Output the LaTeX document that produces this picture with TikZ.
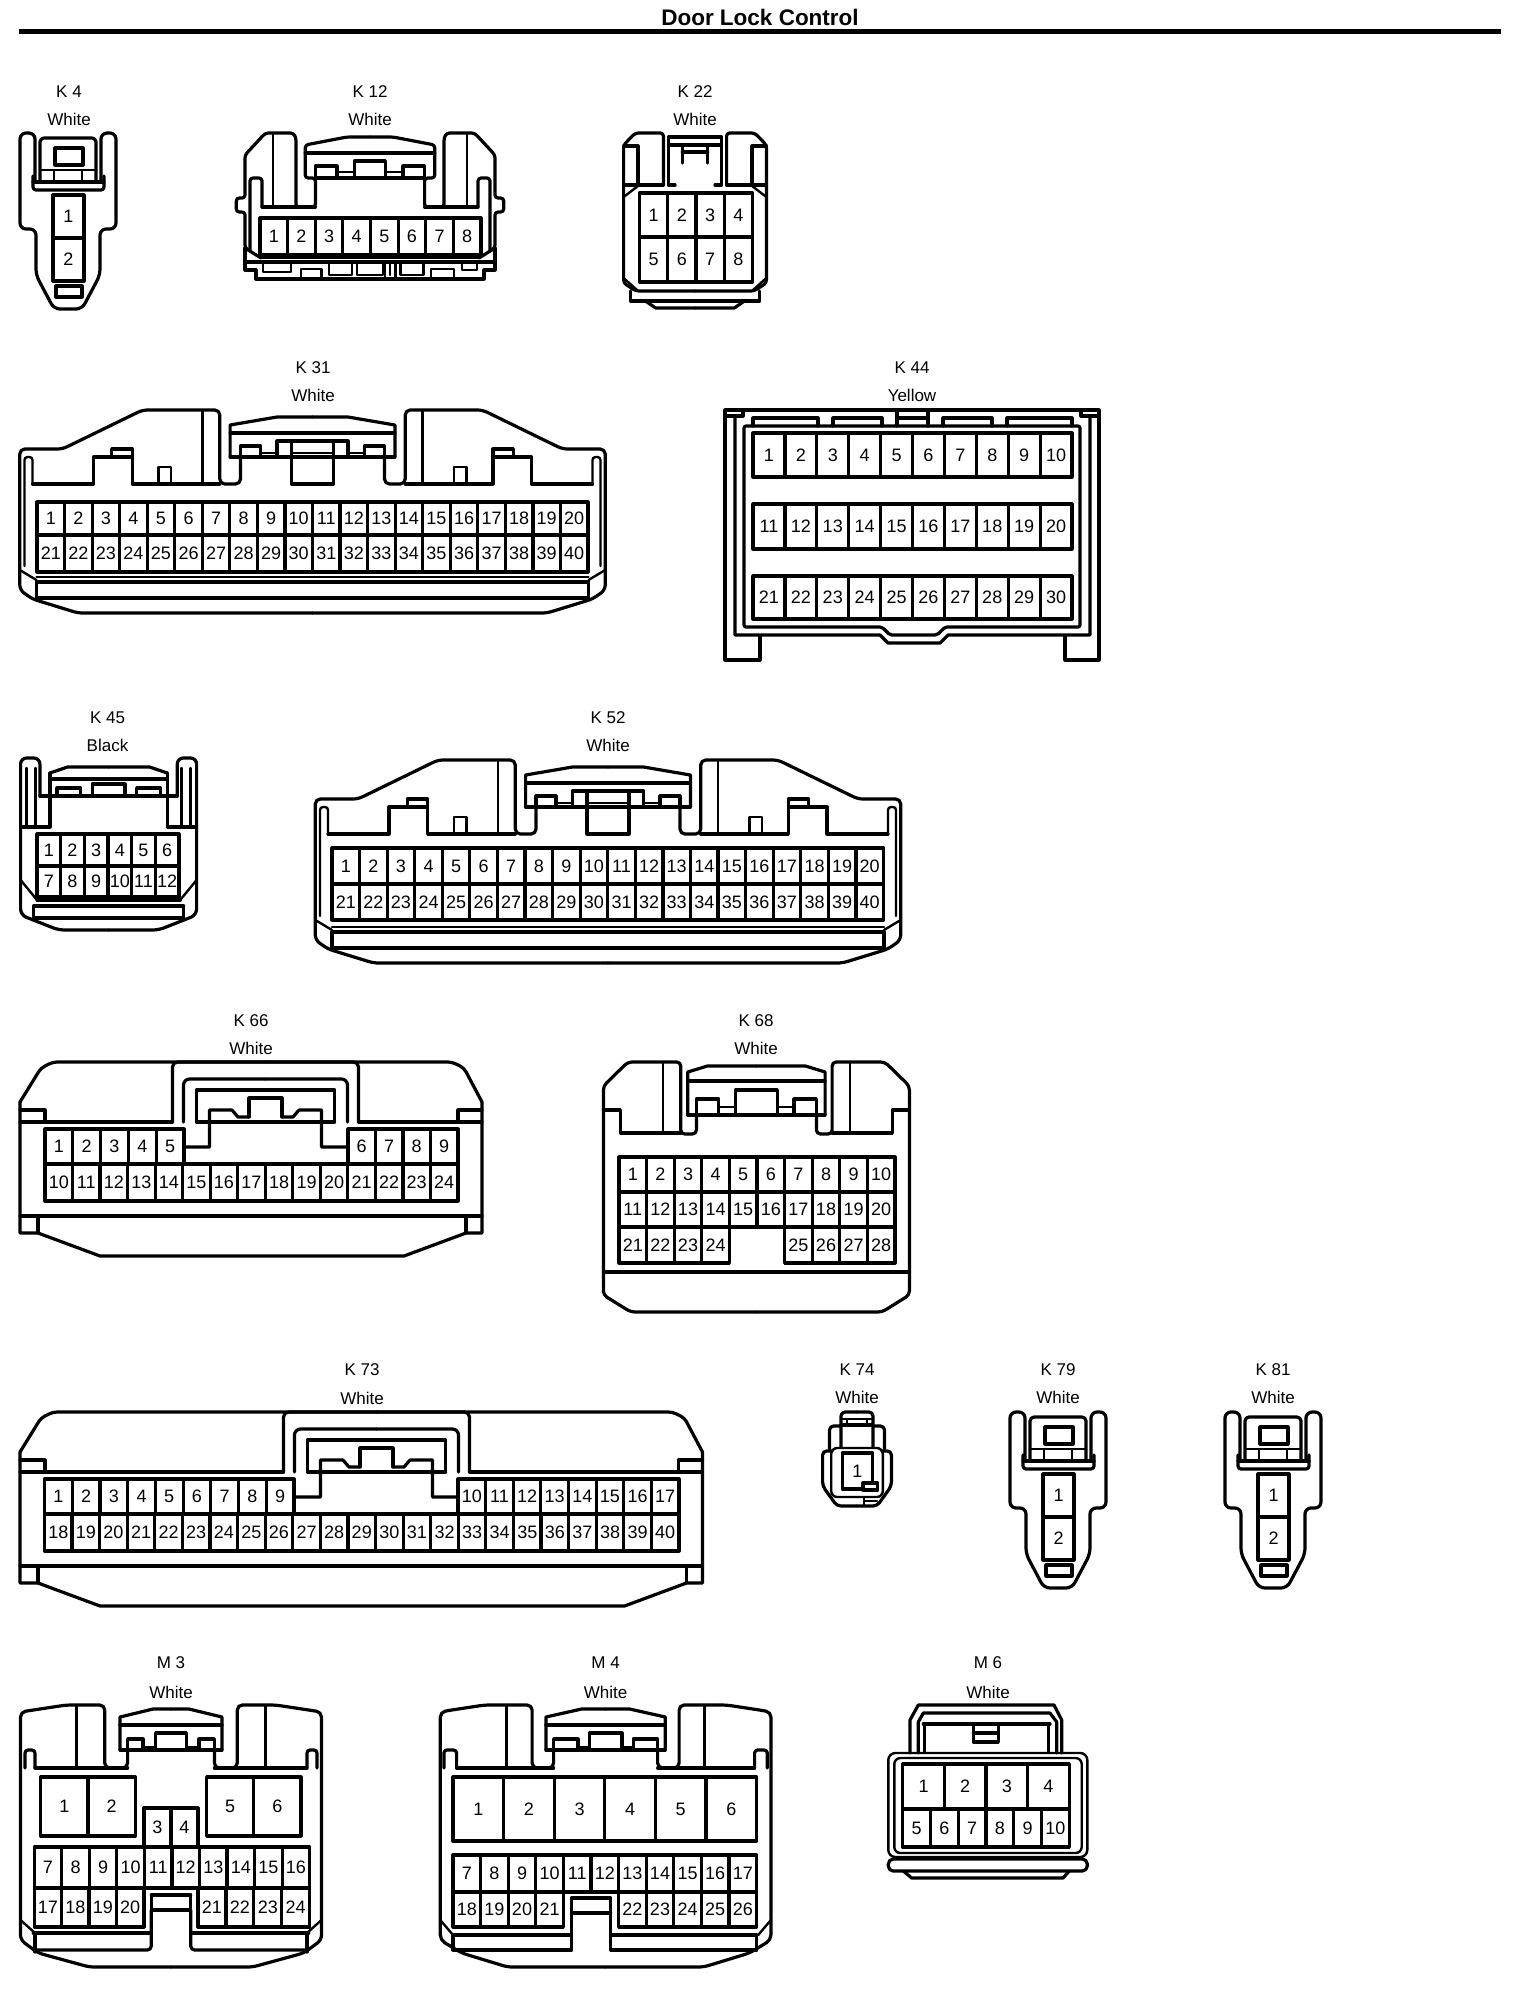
\documentclass[tikz,border=0pt]{standalone}
\usepackage{fontspec}
\setmainfont{Liberation Sans}
\tikzset{
  ln/.style={line width=3.2pt,line join=round,line cap=round},
  thn/.style={line width=2.4pt,line join=round,line cap=round},
  rc/.style={rounded corners=#1},
  num/.style={inner sep=0pt,font=\fontsize{18}{18}\selectfont},
  lbl/.style={inner sep=0pt,font=\fontsize{17}{17}\selectfont},
  ttl/.style={inner sep=0pt,font=\fontsize{22.5}{23}\selectfont\bfseries}
}
\newcommand\cellrow[7]{%
  \draw[ln] (#2,#3) rectangle (#4,#5);
  \pgfmathsetmacro\mycw{(#4-#2)/#6}
  \pgfmathsetmacro\mycy{(#3+#5)/2}
  \foreach \myi in {1,...,#6}{%
    \pgfmathsetmacro\mycx{#2+(\myi-0.5)*\mycw}
    \pgfmathtruncatemacro\myn{#7+\myi-1}
    \node[num] (#1-\myn) at (\mycx,\mycy) {\myn};
    \ifnum\myi<#6\relax
      \pgfmathsetmacro\myrx{#2+\myi*\mycw}
      \draw[ln] (\myrx,#3) -- (\myrx,#5);
    \fi
  }}
\newcommand\lab[6]{%
  \node[lbl] (#1-name) at (#2,#3) {#5};
  \node[lbl] (#1-col) at (#2,#4) {#6};}
\newcommand\sym[2]{%
  \begin{scope}[shift={(#1,0)}]#2\end{scope}%
  \begin{scope}[shift={(#1,0)},xscale=-1]#2\end{scope}}
% two-pin connector (K4, K79, K81)
\newcommand\twopin[3]{%
  \begin{scope}[shift={(#2,#3)}]
    \draw[ln,rc=6pt] (35,182)--(35,133)--(20,133)--(20,229)--(36,229)--(36,275)--(54,309)--(82,309)--(100,275)--(100,229)--(116,229)--(116,133)--(101,133)--(101,182);
    \draw[ln,rc=3pt] (33,176)--(33,190)--(104,190)--(104,176);
    \draw[ln] (33,182)--(104,182);
    \draw[ln,rc=4pt] (40,182)--(40,138)--(96,138)--(96,182);
    \draw[thn] (40,170)--(96,170) (54,170)--(54,182) (82,170)--(82,182);
    \draw[ln] (55,148) rectangle (83,165);
    \draw[ln] (56,286) rectangle (82,297);
    \cellrow{#1a}{53}{195}{84}{238}{1}{1}
    \cellrow{#1b}{53}{238}{84}{281}{1}{2}
  \end{scope}}
% forty-pin connector (K31, K52)
\newcommand\fortyhalf[1]{%
  \draw[ln,rc=5pt] (0,613)--(-234.5,613)--(-280,599)--(-292.7,590)--(-292.7,449)--(-250,449)--(-170,410)--(-92.7,410)--(-92.7,484)--(-72,484)--(-72,457);
  \draw[ln] (-280,484)--(-219,484)--(-219,457)--(-180.4,457)--(-180.4,484)--(-92.7,484);
  \draw[ln] (-200.8,457)--(-200.8,449)--(-180.4,449)--(-180.4,457);
  \draw[thn] (-153.9,484)--(-153.9,467)--(-141.6,467)--(-141.6,484);
  \draw[thn] (-110,410)--(-110,484);
  \draw[thn,rc=3pt] (-280,484)--(-280,457)--(-288,457)--(-288,566);
  \draw[ln] (-82.4,457)--(-82.4,425)--(-35.5,417)--(0,417);
  \draw[ln] (-82.4,433)--(0,433);
  \draw[ln] (-82.4,457)--(0,457);
  \draw[ln] (-72,457)--(-72,446)--(-52,446)--(-52,457);
  \draw[thn] (-52,453)--(-35.5,453);
  \draw[ln] (-35.5,457)--(-35.5,441)--(0,441);
  \draw[ln] (-21,441)--(-21,484)--(0,484);
  \draw[thn] (-21,453)--(0,453);
  \draw[thn] (-292.7,570)--(-276,580);
  \draw[thn] (-276,577)--(0,577);
  \draw[ln] (-276,582)--(0,582);
  \draw[ln] (-276,582)--(-276,598)--(0,598);
}
% wide connector (K66, K73)
\newcommand\widecon[3]{%
  \begin{scope}[shift={(0,#3)}]
    \draw[ln,rc=4pt] (20,1102)--(41,1068)--(53,1062)--({#1-30},1062)--({#1-18},1068)--(#1,1102);
    \draw[ln] (20,1102)--(20,1233)--(38,1233)--(100,1256)--({#1-78},1256)--({#1-16},1233)--(#1,1233)--(#1,1102);
    \draw[ln] (20,1122)--({#2-93},1122) ({#2+93},1122)--(#1,1122);
    \draw[ln] (20,1216)--(#1,1216);
    \draw[ln] (20,1110)--(45,1110)--(45,1122) (#1,1110)--({#1-24},1110)--({#1-24},1122);
    \draw[ln] (38,1216)--(38,1233) ({#1-16},1216)--({#1-16},1233);
    \sym{#2}{
      \draw[ln,rc=5pt] (-93,1122)--(-93,1062)--(0,1062);
      \draw[ln,rc=6pt] (-82,1122)--(-82,1079)--(0,1079);
      \draw[ln] (-69,1122)--(-69,1090)--(0,1090);
      \draw[ln] (-69,1122)--(0,1122);
      \draw[ln] (-82,1147)--(-56,1147)--(-56,1110)--(-33.5,1110)--(-27.5,1117)--(-16.5,1117);
      \draw[ln] (-16.5,1117)--(-16.5,1098)--(0,1098);
    }
  \end{scope}}
\begin{document}
\begin{tikzpicture}[x=1pt,y=-1pt]
\useasboundingbox (0,0) rectangle (1536,1998);
\fill[white] (0,0) rectangle (1536,1998);
\node[ttl] (title) at (760,17) {Door Lock Control};
\coordinate (ruleL) at (19,31.5);
\coordinate (ruleR) at (1501,31.5);
\draw[line width=5pt] (ruleL)--(ruleR);

% K4 / K79 / K81
\lab{k4}{69}{92}{119}{K 4}{White}
\twopin{k4}{0}{0}
\lab{k79}{1058}{1370}{1397}{K 79}{White}
\twopin{k79}{990}{1279}
\lab{k81}{1273}{1370}{1397}{K 81}{White}
\twopin{k81}{1205}{1279}

% K12
\lab{k12}{370}{92}{119}{K 12}{White}
\sym{370}{
  \draw[ln,rc=3pt] (-109,258)--(-125,248)--(-125,212)--(-133.7,212)--(-133.7,198)--(-125,198)--(-125,155)--(-104.6,133)--(-76.5,133)--(-74,138)--(-74,207)--(-54.6,207)--(-54.6,178)--(-64.8,178)--(-64.8,145)--(-23,137)--(0,137);
  \draw[ln,rc=3pt] (-108,207)--(-108,178)--(-120,178)--(-120,250);
  \draw[ln] (-108,207)--(-54.6,207);
  \draw[thn] (-97,133)--(-97,207);
  \draw[ln] (-64.8,153)--(0,153);
  \draw[ln] (-54.6,178)--(0,178);
  \draw[ln] (-54.6,178)--(-54.6,166)--(-33,166)--(-33,178);
  \draw[thn] (-33,172)--(-15.3,172);
  \draw[ln] (-15.3,178)--(-15.3,161)--(0,161);
  \draw[thn] (-109,258)--(0,258);
  \draw[ln] (-125,262)--(0,262);
  \draw[ln] (-125,248)--(-125,270)--(-114,270)--(-114,279)--(0,279);
}
\cellrow{k12}{260}{218}{481}{255}{8}{1}
\begin{scope}[shift={(370,0)}]
  \draw[thn] (-107,263) rectangle (-79,272);
  \draw[thn] (-69,269) rectangle (-48.5,279);
  \draw[thn] (-41,263) rectangle (-18,275);
  \draw[thn] (-13,263) rectangle (13,275);
  \draw[thn] (15,263)--(15,279) (20,263)--(20,275) (25.5,263)--(25.5,279);
  \draw[thn] (30.6,263) rectangle (53.6,275);
  \draw[thn] (61,269) rectangle (84,279);
  \draw[thn] (92,263) rectangle (107,270);
\end{scope}

% K22
\lab{k22}{695}{92}{119}{K 22}{White}
\sym{695}{
  \draw[ln,rc=3pt] (0,291)--(-59,291)--(-71.4,283)--(-71.4,145)--(-59.7,133)--(-31.6,133)--(-31.6,185);
  \draw[ln] (-71.4,146)--(-57,146)--(-57,185);
  \draw[ln] (-71.4,185)--(-31.6,185);
  \draw[ln] (-26.5,185)--(-26.5,137)--(0,137);
  \draw[ln] (-26.5,145)--(0,145);
  \draw[ln] (-12.8,145)--(-12.8,163);
  \draw[ln] (-12.8,152)--(0,152);
  \draw[thn] (-71.4,197)--(-57,186);
  \draw[thn] (-71.4,278)--(-58,290);
  \draw[ln] (-64.5,291)--(-64.5,301)--(0,301);
  \draw[ln] (-49.5,301)--(-39.3,308)--(0,308);
  \draw[ln] (-26.5,185)--(-20,185);
}
\cellrow{k22a}{639.4}{193}{752.6}{237}{4}{1}
\cellrow{k22b}{639.4}{237}{752.6}{282}{4}{5}

% K31
\lab{k31}{313}{368}{395}{K 31}{White}
\sym{312.5}{\fortyhalf{}}
\cellrow{k31a}{37}{502}{588}{535}{20}{1}
\cellrow{k31b}{37}{535}{588}{572}{20}{21}

% K52
\lab{k52}{608}{718}{745}{K 52}{White}
\begin{scope}[shift={(0,350)}]
  \sym{608}{\fortyhalf{}}
\end{scope}
\cellrow{k52a}{332}{848}{883.5}{884}{20}{1}
\cellrow{k52b}{332}{884}{883.5}{920}{20}{21}

% K44
\lab{k44}{912}{368}{395}{K 44}{Yellow}
\draw[ln] (760,636)--(760,660)--(725,660)--(725,410)--(1099,410)--(1099,660)--(1065,660)--(1065,636);
\draw[ln] (735,417)--(735,635)--(880,635)--(888,643)--(940,643)--(948,635)--(1090,635)--(1090,417);
\draw[ln,rc=2pt] (744,426)--(744,627)--(882,627)--(890,635)--(937,635)--(945,627)--(1080,627)--(1080,426)--cycle;
\draw[ln] (725,416)--(743,416)--(743,410) (1081,410)--(1081,416)--(1099,416);
\draw[ln] (753,426)--(753,418)--(818,418)--(818,426);
\draw[ln] (833,426)--(833,418)--(882,418)--(882,426);
\draw[ln] (897,426)--(897,411)  (928,426)--(928,411) (897,418)--(928,418);
\draw[ln] (943,426)--(943,418)--(992,418)--(992,426);
\draw[ln] (1007,426)--(1007,418)--(1072,418)--(1072,426);
\cellrow{k44a}{753}{433}{1072}{477}{10}{1}
\cellrow{k44b}{753}{504}{1072}{549}{10}{11}
\cellrow{k44c}{753}{576}{1072}{619}{10}{21}

% K45
\lab{k45}{107.5}{718}{745}{K 45}{Black}
\sym{108.6}{
  \draw[ln,rc=6pt] (0,930)--(-50,930)--(-88,915)--(-88,758)--(-68.7,758)--(-68.7,796);
  \draw[ln] (-88,827)--(-58.7,827)--(-58.7,773);
  \draw[thn] (-82,768)--(-82,825);
  \draw[thn] (-73,768)--(-73,825);
  \draw[ln] (-58.7,773)--(-41,767)--(0,767);
  \draw[ln] (-58.7,779)--(0,779);
  \draw[ln] (-68.7,796)--(0,796);
  \draw[ln] (-51.6,796)--(-51.6,788)--(-28,788)--(-28,796);
  \draw[ln] (-16.4,796)--(-16.4,784)--(0,784);
  \draw[thn] (-88,880)--(-71.6,900);
  \draw[ln] (-71.6,900)--(0,900);
  \draw[ln] (-75,906)--(0,906);
  \draw[ln] (-75,906)--(-75,918)--(0,918);
}
\cellrow{k45a}{37}{834}{179}{866}{6}{1}
\cellrow{k45b}{37}{866}{179}{897}{6}{7}

% K66
\lab{k66}{251}{1021}{1048}{K 66}{White}
\widecon{482}{265.5}{0}
\cellrow{k66a}{45}{1129}{184}{1164}{5}{1}
\cellrow{k66b}{348}{1129}{458}{1164}{4}{6}
\cellrow{k66c}{45}{1164}{458}{1201}{15}{10}

% K73
\lab{k73}{362}{1370}{1398}{K 73}{White}
\widecon{702.5}{376.5}{350}
\cellrow{k73a}{44.5}{1479}{294}{1514}{9}{1}
\cellrow{k73b}{458}{1479}{679}{1514}{8}{10}
\cellrow{k73c}{44.5}{1514}{679}{1551}{23}{18}

% K68
\lab{k68}{756}{1021}{1048}{K 68}{White}
\sym{756.4}{
  \draw[ln,rc=4pt] (0,1312)--(-125.6,1312)--(-153,1295)--(-153,1086)--(-128.5,1062)--(-75.7,1062)--(-75.7,1134)--(-60,1134)--(-60,1115);
  \draw[ln] (-68.7,1115)--(-68.7,1072)--(-49,1066)--(0,1066);
  \draw[ln] (-68.7,1081)--(0,1081);
  \draw[ln] (-68.7,1115)--(0,1115);
  \draw[ln] (-60,1115)--(-60,1099)--(-37.6,1099)--(-37.6,1115);
  \draw[thn] (-37.6,1107)--(-21,1107);
  \draw[ln] (-21,1115)--(-21,1090)--(0,1090);
  \draw[ln] (-153,1110)--(-136,1110)--(-136,1133)--(-75.7,1133);
  \draw[thn] (-93.3,1062)--(-93.3,1133);
  \draw[ln] (-153,1272)--(0,1272);
}
\cellrow{k68a}{619}{1157}{895}{1192}{10}{1}
\cellrow{k68b}{619}{1192}{895}{1227}{10}{11}
\cellrow{k68c}{619}{1227}{729.4}{1263}{4}{21}
\cellrow{k68d}{784.6}{1227}{895}{1263}{4}{25}

% K74
\lab{k74}{857}{1370}{1397}{K 74}{White}
\begin{scope}[shift={(857,0)}]
  \sym{0}{
    \draw[ln,rc=4pt] (-16,1447)--(-16,1412)--(0,1412);
    \draw[ln] (-16,1425)--(0,1425);
    \draw[thn] (-16,1419)--(0,1419);
    \draw[ln,rc=4pt] (-16,1426)--(-27.5,1426)--(-27.5,1449);
    \draw[ln,rc=4pt] (-25,1451)--(-34.4,1451)--(-34.4,1486)--(-20,1506)--(0,1506);
    \draw[thn,rc=6pt] (0,1448)--(-25.8,1448)--(-25.8,1497)--(0,1497);
  }
  \draw[thn] (-10,1419) rectangle (10,1425);
  \cellrow{k74}{-14.8}{1453}{15.5}{1489}{1}{1}
  \draw[ln,fill=white] (5.9,1483) rectangle (20.7,1490);
  \draw[thn] (7,1497)--(7,1506) (7,1501)--(20,1501);
\end{scope}

% M3
\lab{m3}{171}{1663}{1692}{M 3}{White}
\sym{171}{
  \draw[ln,rc=5pt] (0,1967)--(-81.6,1967)--(-132.7,1953)--(-150.5,1940)--(-150.5,1712)--(-137.8,1710)--(-104.6,1705)--(-66.3,1705)--(-66.3,1768)--(-43.4,1768)--(-43.4,1750);
  \draw[ln] (-51,1750)--(-51,1717)--(-17.9,1709)--(0,1709);
  \draw[ln] (-51,1750)--(0,1750);
  \draw[ln] (-51,1725)--(0,1725);
  \draw[ln] (-43.4,1750)--(-43.4,1739)--(-28,1739)--(-28,1750);
  \draw[thn] (-28,1747)--(-15.3,1747);
  \draw[ln] (-15.3,1750)--(-15.3,1733)--(0,1733);
  \draw[thn] (-94.4,1705)--(-94.4,1768);
  \draw[ln] (-136,1768)--(-43.4,1768);
  \draw[ln,rc=3pt] (-136,1768)--(-136,1750)--(-146,1750)--(-146,1768);
  \draw[thn] (-150.5,1920)--(-136,1933);
  \draw[ln] (-137.8,1933)--(-19.7,1933);
  \draw[ln] (-136,1933)--(-136,1952);
  \draw[ln,rc=4pt] (-19.7,1910)--(-19.7,1950)--(-137.8,1950);
  \draw[ln] (-19.7,1895)--(0,1895);
  \draw[ln] (-19.7,1895)--(-19.7,1910)--(0,1910);
}
\cellrow{m3a}{40.8}{1777}{135.2}{1836}{2}{1}
\cellrow{m3b}{206.6}{1777}{301}{1836}{2}{5}
\cellrow{m3c}{143.9}{1808}{198}{1847}{2}{3}
\cellrow{m3d}{34.2}{1847}{309.7}{1888}{10}{7}
\cellrow{m3e}{34.2}{1888}{143.9}{1927}{4}{17}
\cellrow{m3f}{198}{1888}{309.7}{1927}{4}{21}

% M4
\lab{m4}{605.6}{1663}{1692}{M 4}{White}
\sym{605.6}{
  \draw[ln,rc=5pt] (0,1967)--(-98,1967)--(-143.9,1953)--(-165.3,1940)--(-165.3,1712)--(-154,1710)--(-121,1705)--(-73.5,1705)--(-73.5,1768)--(-52,1768)--(-52,1750);
  \draw[ln] (-59.7,1750)--(-59.7,1717)--(-24,1709)--(0,1709);
  \draw[ln] (-59.7,1750)--(0,1750);
  \draw[ln] (-59.7,1725)--(0,1725);
  \draw[ln] (-52,1750)--(-52,1739)--(-27.6,1739)--(-27.6,1750);
  \draw[thn] (-27.6,1747)--(-16.3,1747);
  \draw[ln] (-16.3,1750)--(-16.3,1733)--(0,1733);
  \draw[thn] (-99,1705)--(-99,1768);
  \draw[ln] (-149,1768)--(-52,1768);
  \draw[ln,rc=3pt] (-149,1768)--(-149,1750)--(-161.7,1750)--(-161.7,1768);
  \draw[thn] (-165.3,1920)--(-152.6,1935);
}
\cellrow{m4a}{453}{1777}{756.6}{1841}{6}{1}
\cellrow{m4b}{453}{1855}{756.6}{1892}{11}{7}
\cellrow{m4c}{453}{1892}{563.4}{1927}{4}{18}
\cellrow{m4d}{618.6}{1892}{756.6}{1927}{5}{22}
\draw[ln] (571.4,1950)--(571.4,1898)--(610.7,1898)--(610.7,1950);
\draw[ln] (571.4,1913)--(610.7,1913);
\draw[ln] (453,1935)--(571.4,1935) (610.7,1935)--(756.6,1935);
\draw[ln] (453,1950)--(571.4,1950) (610.7,1950)--(756.6,1950);
\draw[ln] (453,1935)--(453,1950) (756.6,1935)--(756.6,1950);

% M6
\lab{m6}{988}{1663}{1692}{M 6}{White}
\draw[ln] (910,1753)--(910,1720)--(918.3,1705)--(1054,1705)--(1061.7,1720)--(1061.7,1753);
\draw[ln] (918.3,1753)--(918.3,1722)--(923.3,1713)--(1050,1713)--(1056.7,1722)--(1056.7,1753);
\draw[ln] (923.3,1724)--(1050,1724);
\draw[thn] (924.3,1724)--(924.3,1753) (1048.3,1724)--(1048.3,1753);
\draw[ln] (973.3,1726)--(973.3,1742)--(998.3,1742)--(998.3,1726);
\draw[ln] (973.3,1733)--(998.3,1733);
\draw[thn,rc=7pt] (888.3,1753) rectangle (1087.3,1857);
\draw[thn,rc=6pt] (894.3,1758) rectangle (1081.7,1853);
\cellrow{m6a}{902.7}{1764}{1069.3}{1809}{4}{1}
\cellrow{m6b}{902.7}{1809}{1069.3}{1847}{6}{5}
\draw[ln,rc=5pt] (888.3,1859) rectangle (1087.3,1871);
\draw[ln] (903.3,1871)--(911.7,1878)--(1063,1878)--(1069.3,1871);
\end{tikzpicture}
\end{document}
